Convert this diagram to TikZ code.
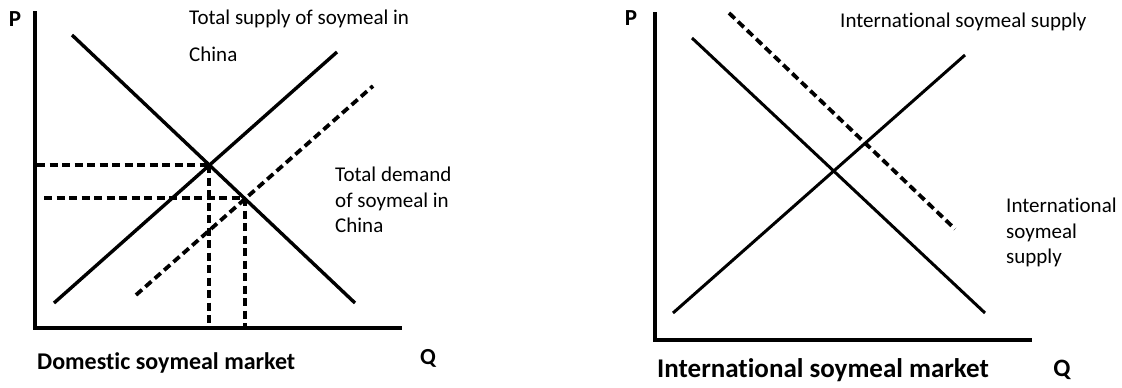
\documentclass[tikz,border=0pt]{standalone}
\usepackage{fontspec}
\setmainfont[Ligatures=NoCommon]{Carlito}
\begin{document}
\begin{tikzpicture}[x=1pt,y=-1pt,
  axis/.style={line width=4pt},
  curve/.style={line width=3.4pt},
  dcurve/.style={line width=3.8pt,dash pattern=on 8pt off 4.5pt},
  guide/.style={line width=3.4pt,dash pattern=on 8pt off 4.5pt},
  lbl/.style={inner sep=0pt,font=\fontsize{21}{25.5}\selectfont,align=left},
  ttl/.style={inner sep=0pt,font=\fontsize{24}{28}\selectfont\bfseries},
  axlbl/.style={inner sep=0pt,font=\fontsize{23}{28}\selectfont\bfseries}]
\useasboundingbox (0,0) rectangle (1122,388);
% ---------- left panel ----------
\coordinate (LO) at (35,328);
\coordinate (LT) at (35,11);
\coordinate (LR) at (402,328);
\draw[axis] (LT) -- (LO) -- (LR);
\coordinate (D1a) at (72,35);  \coordinate (D1b) at (355,303);
\coordinate (S1a) at (54,303); \coordinate (S1b) at (337,52);
\coordinate (S2a) at (136,295); \coordinate (S2b) at (373,86);
\draw[curve] (D1a) -- (D1b);
\draw[curve] (S1a) -- (S1b);
\draw[dcurve] (S2a) -- (S2b);
\coordinate (E1) at (209,165);
\coordinate (E2) at (245,198);
\coordinate (E1y) at (37,165);
\coordinate (E2y) at (44,198);
\coordinate (E1x) at (209,326);
\coordinate (E2x) at (245,326);
\draw[guide] (E1y) -- (E1);
\draw[guide] (E2y) -- (E2);
\draw[guide] (E1) -- (E1x);
\draw[guide] (E2) -- (E2x);
\node[axlbl,anchor=center] (P1) at (15,19) {P};
\node[axlbl,anchor=center] (Q1) at (428,358) {Q};
\node[ttl,anchor=west] (T1) at (37,363) {Domestic soymeal market};
\node[lbl,anchor=west,font=\fontsize{21}{37}\selectfont] (LS) at (189,36) {Total supply of soymeal in\\China};
\node[lbl,anchor=north west] (LD) at (335,167) {Total demand\\of soymeal in\\China};
% ---------- right panel ----------
\coordinate (RO) at (655,340);
\coordinate (RT) at (655,12);
\coordinate (RR) at (1032,340);
\draw[axis] (RT) -- (RO) -- (RR);
\coordinate (D3a) at (692,38);  \coordinate (D3b) at (985,313);
\coordinate (S3a) at (673,313); \coordinate (S3b) at (965,55);
\coordinate (D4a) at (729,13);  \coordinate (D4b) at (955,229);
\draw[curve,line width=3pt] (D3a) -- (D3b);
\draw[curve,line width=3pt] (S3a) -- (S3b);
\draw[dcurve] (D4a) -- (D4b);
\node[axlbl,anchor=center] (P2) at (631,18) {P};
\node[axlbl,anchor=center,font=\fontsize{25}{30}\selectfont\bfseries] (Q2) at (1062,370) {Q};
\node[ttl,anchor=west,font=\fontsize{27}{30}\selectfont\bfseries] (T2) at (657,370) {International soymeal market};
\node[lbl,anchor=west] (RS) at (840,22) {International soymeal supply};
\node[lbl,anchor=north west] (RL) at (1006,198) {International\\soymeal\\supply};
\end{tikzpicture}
\end{document}
